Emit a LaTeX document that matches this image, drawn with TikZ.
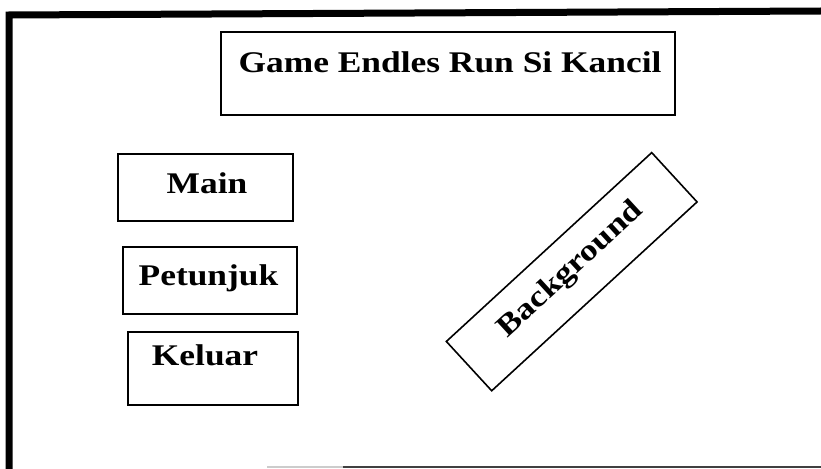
\documentclass[tikz,border=0pt]{standalone}
\usepackage{fontspec}
\setmainfont{Liberation Serif}[FakeStretch=1.18,UprightFont=* Bold]
\begin{document}
\begin{tikzpicture}[x=1pt,y=-1pt,
  box/.style={draw=black,line width=1.6pt,rectangle,inner sep=0pt},
  lbl/.style={font=\fontsize{30}{34}\selectfont,inner sep=0pt,anchor=base},
  frameline/.style={line width=7pt,line cap=rect}]
\useasboundingbox (0,0) rectangle (821,468);
% outer frame
\coordinate (fbl) at (9,468);
\coordinate (ftl) at (9,15);
\coordinate (ftr) at (821,11);
\draw[frameline] (fbl) -- (ftl) -- (ftr);
\coordinate (b1) at (267,467);
\coordinate (b2) at (343,467);
\coordinate (b3) at (821,467);
\draw[line width=1.5pt,black!20] (b1) -- (b2);
\draw[line width=1.5pt,black!75] (b2) -- (b3);
% title
\node[box,minimum width=454pt,minimum height=83pt] (titlebox) at (448,73.5) {};
\node[lbl,font=\fontsize{30}{34}\selectfont] (title) at (450,73) {Game Endles Run Si Kancil};
% buttons
\node[box,minimum width=175pt,minimum height=67pt] (mainbox) at (205.5,187.5) {};
\node[lbl] (main) at (207,193) {Main};
\node[box,minimum width=174pt,minimum height=67pt] (petbox) at (210,280.5) {};
\node[lbl] (pet) at (208.5,285) {Petunjuk};
\node[box,minimum width=170pt,minimum height=73pt] (kelbox) at (213,368.5) {};
\node[lbl] (kel) at (205,365) {Keluar};
% background
\node[box,minimum width=279pt,minimum height=67pt,rotate=42.6] (bgbox) at (571.7,271.7) {};
\node[font=\fontsize{30}{34}\selectfont,inner sep=0pt,rotate=42.6] (bg) at (571,270) {Background};
\end{tikzpicture}
\end{document}
